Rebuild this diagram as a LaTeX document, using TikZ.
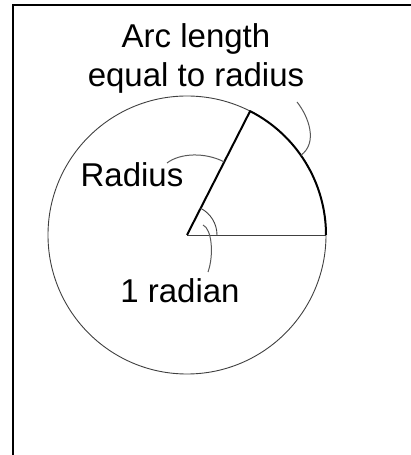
\documentclass[tikz,border=0pt]{standalone}
\usepackage{fontspec}
\setmainfont{Liberation Sans}
\usetikzlibrary{calc}

\begin{document}
\begin{tikzpicture}[
    x=1pt, y=1pt,
    every node/.style={align=center},
    label/.style={
        inner sep=0pt,
        font=\fontsize{33}{39}\selectfont
    },
    rim/.style={
        draw=black!75,
        line width=0.9pt
    },
    bold/.style={
        draw=black,
        line width=2pt,
        line join=round
    },
    leader/.style={
        draw=black!65,
        line width=1pt
    }
]

\useasboundingbox (0,0) rectangle (411,455);

% frame
\draw[line width=2pt] (13,0) -- (13,450) -- (411,450);

\coordinate (centre) at (187,220);
\coordinate (edge) at ($(centre)+(0:139)$);
\coordinate (tip) at ($(centre)+(63:139)$);

\draw[rim] (centre) circle (139);
\draw[rim] (centre) -- (edge);
\draw[bold] (edge) arc (0:63:139) -- (centre);
\draw[rim] ($(centre)+(0:30)$) arc (0:63:30);

\node[label, anchor=base] (arclabel) at (196,368) {Arc length\\equal to radius};
\node[label, anchor=base] (radiuslabel) at (132,268) {Radius};
\node[label, anchor=base] (anglelabel) at (180,152) {1 radian};

\coordinate (arcfoot) at ($(centre)+(35:139)$);
\coordinate (archead) at (297,353);
\coordinate (radfoot) at ($(centre)!0.59!(tip)$);
\coordinate (radhead) at (167,292);
\coordinate (angtop) at (203,230);
\coordinate (angfoot) at (208,183);

\draw[leader] (archead) .. controls (309,338) and (318,312) .. (arcfoot);
\draw[leader] (radhead) .. controls (180,302) and (205,303) .. (radfoot);
\draw[leader] (angtop) .. controls (212,226) and (214,200) .. (angfoot);

\end{tikzpicture}
\end{document}
